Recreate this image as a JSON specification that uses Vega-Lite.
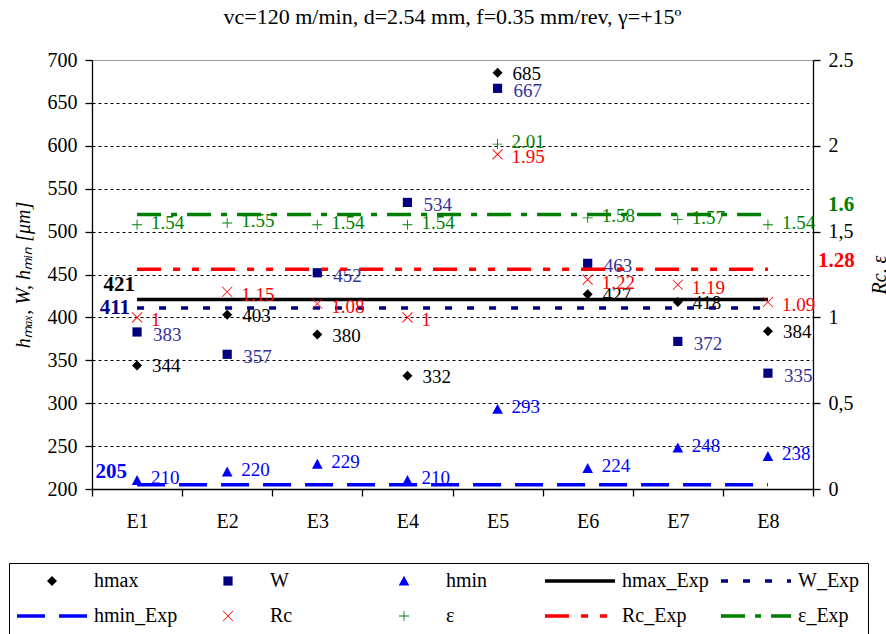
{
  "$schema": "https://vega.github.io/schema/vega-lite/v6.json",
  "width": 721,
  "height": 429,
  "autosize": {"type": "none"},
  "padding": {"left": 92, "top": 60, "right": 73, "bottom": 145},
  "background": "white",
  "title": {"text": "vc=120 m/min, d=2.54 mm, f=0.35 mm/rev, γ=+15º", "font": "Liberation Serif", "fontSize": 22, "fontWeight": "normal", "color": "black", "anchor": "middle", "offset": 21},
  "config": {
    "font": "Liberation Serif",
    "view": {"stroke": "#a0a0a0", "strokeWidth": 1},
    "axis": {"labelFont": "Liberation Serif", "labelFontSize": 20, "labelColor": "black", "titleFont": "Liberation Serif", "titleFontSize": 20, "titleFontWeight": "normal", "titleColor": "black", "domainColor": "black", "tickColor": "black", "domainWidth": 1.3, "tickWidth": 1.3}
  },
  "datasets": {
    "pts": [
      {"E": "E1", "series": "hmax", "v": 344}, {"E": "E2", "series": "hmax", "v": 403}, {"E": "E3", "series": "hmax", "v": 380}, {"E": "E4", "series": "hmax", "v": 332},
      {"E": "E5", "series": "hmax", "v": 685}, {"E": "E6", "series": "hmax", "v": 427}, {"E": "E7", "series": "hmax", "v": 418}, {"E": "E8", "series": "hmax", "v": 384},
      {"E": "E1", "series": "W", "v": 383}, {"E": "E2", "series": "W", "v": 357}, {"E": "E3", "series": "W", "v": 452}, {"E": "E4", "series": "W", "v": 534},
      {"E": "E5", "series": "W", "v": 667}, {"E": "E6", "series": "W", "v": 463}, {"E": "E7", "series": "W", "v": 372}, {"E": "E8", "series": "W", "v": 335},
      {"E": "E1", "series": "hmin", "v": 210}, {"E": "E2", "series": "hmin", "v": 220}, {"E": "E3", "series": "hmin", "v": 229}, {"E": "E4", "series": "hmin", "v": 210},
      {"E": "E5", "series": "hmin", "v": 293}, {"E": "E6", "series": "hmin", "v": 224}, {"E": "E7", "series": "hmin", "v": 248}, {"E": "E8", "series": "hmin", "v": 238},
      {"E": "E1", "series": "Rc", "v": 1}, {"E": "E2", "series": "Rc", "v": 1.15}, {"E": "E3", "series": "Rc", "v": 1.08}, {"E": "E4", "series": "Rc", "v": 1},
      {"E": "E5", "series": "Rc", "v": 1.95}, {"E": "E6", "series": "Rc", "v": 1.22}, {"E": "E7", "series": "Rc", "v": 1.19}, {"E": "E8", "series": "Rc", "v": 1.09},
      {"E": "E1", "series": "ε", "v": 1.54}, {"E": "E2", "series": "ε", "v": 1.55}, {"E": "E3", "series": "ε", "v": 1.54}, {"E": "E4", "series": "ε", "v": 1.54},
      {"E": "E5", "series": "ε", "v": 2.01}, {"E": "E6", "series": "ε", "v": 1.58}, {"E": "E7", "series": "ε", "v": 1.57}, {"E": "E8", "series": "ε", "v": 1.54}
    ],
    "exp": [
      {"E": "E1", "series": "hmax_Exp", "v": 421}, {"E": "E8", "series": "hmax_Exp", "v": 421},
      {"E": "E1", "series": "W_Exp", "v": 411}, {"E": "E8", "series": "W_Exp", "v": 411},
      {"E": "E1", "series": "hmin_Exp", "v": 205}, {"E": "E8", "series": "hmin_Exp", "v": 205},
      {"E": "E1", "series": "Rc_Exp", "v": 1.28}, {"E": "E8", "series": "Rc_Exp", "v": 1.28},
      {"E": "E1", "series": "ε_Exp", "v": 1.6}, {"E": "E8", "series": "ε_Exp", "v": 1.6}
    ]
  },
  "encoding": {
    "x": {"field": "E", "type": "nominal", "scale": {"type": "band", "paddingInner": 0, "paddingOuter": 0, "domain": ["E1", "E2", "E3", "E4", "E5", "E6", "E7", "E8"]}, "axis": {"title": null, "labelAngle": 0, "tickBand": "extent", "tickSize": 7, "labelPadding": 15, "grid": false}}
  },
  "layer": [
    {
      "encoding": {
        "y": {"field": "v", "type": "quantitative", "scale": {"domain": [200, 700], "zero": false, "nice": false}, "axis": {"orient": "left", "title": "hₘₐₓ, W, hₘᵢₙ [μm]", "titleFontStyle": "italic", "titlePadding": 14, "values": [200, 250, 300, 350, 400, 450, 500, 550, 600, 650, 700], "grid": true, "gridColor": "black", "gridDash": [3, 3], "gridWidth": 1, "gridOpacity": {"condition": {"test": "datum.value == 700 || datum.value == 200", "value": 0}, "value": 1}, "tickSize": 7, "labelPadding": 8}}
      },
      "layer": [
        {
          "data": {"name": "exp"},
          "transform": [{"filter": "indexof(['hmax_Exp','W_Exp','hmin_Exp'], datum.series) >= 0"}],
          "mark": {"type": "line", "strokeWidth": 3.5},
          "encoding": {
            "color": {"field": "series", "type": "nominal",
              "scale": {"domain": ["hmax", "W", "hmin", "hmax_Exp", "W_Exp", "hmin_Exp", "Rc", "ε", "Rc_Exp", "ε_Exp"], "range": ["#000000", "#000080", "#0000FF", "#000000", "#000080", "#0000FF", "#FF0000", "#008000", "#FF0000", "#008000"]},
              "legend": {"title": null, "orient": "none", "legendX": -83, "legendY": 503, "direction": "horizontal", "columns": 5, "gridAlign": "all", "columnPadding": 5, "rowPadding": 15, "padding": 8, "strokeColor": "black", "fillColor": "white", "labelFont": "Liberation Serif", "labelFontSize": 20, "labelColor": "black", "labelOffset": 32, "symbolOffset": 25, "symbolSize": 400, "symbolStrokeWidth": 3.5,
                "encode": {"symbols": {"update": {
                  "shape": {"signal": "scale('shape', datum.value)"},
                  "size": {"value": 400},
                  "strokeWidth": {"signal": "indexof(['hmax_Exp','W_Exp','hmin_Exp','Rc_Exp','ε_Exp'], datum.value) >= 0 ? 3.5 : 0"},
                  "fill": {"signal": "indexof(['hmax_Exp','W_Exp','hmin_Exp','Rc_Exp','ε_Exp'], datum.value) >= 0 ? 'transparent' : scale('color', datum.value)"},
                  "stroke": {"signal": "indexof(['hmax_Exp','W_Exp','hmin_Exp','Rc_Exp','ε_Exp'], datum.value) >= 0 ? scale('color', datum.value) : 'transparent'"},
                  "strokeDash": {"signal": "scale('strokeDash', datum.value)"},
                  "opacity": {"value": 1},
                  "fillOpacity": {"value": 1},
                  "strokeOpacity": {"value": 1}
                }}}
              }
            },
            "strokeDash": {"field": "series", "type": "nominal", "legend": null,
              "scale": {"domain": ["hmax", "W", "hmin", "hmax_Exp", "W_Exp", "hmin_Exp", "Rc", "ε", "Rc_Exp", "ε_Exp"], "range": [[1, 0], [1, 0], [1, 0], [1, 0], [7, 15], [28, 14], [1, 0], [1, 0], [24, 12, 7, 12, 7, 12], [24, 10, 6, 10]]}}
          }
        },
        {
          "data": {"name": "pts"},
          "transform": [{"filter": "indexof(['hmax','W','hmin'], datum.series) >= 0"}],
          "mark": {"type": "point", "filled": true, "size": 400, "opacity": 1},
          "encoding": {
            "color": {"field": "series", "type": "nominal", "scale": {"domain": ["hmax", "W", "hmin", "hmax_Exp", "W_Exp", "hmin_Exp", "Rc", "ε", "Rc_Exp", "ε_Exp"], "range": ["#000000", "#000080", "#0000FF", "#000000", "#000080", "#0000FF", "#FF0000", "#008000", "#FF0000", "#008000"]}},
            "shape": {"field": "series", "type": "nominal", "legend": null,
              "scale": {"domain": ["hmax", "W", "hmin", "hmax_Exp", "W_Exp", "hmin_Exp", "Rc", "ε", "Rc_Exp", "ε_Exp"], "range": ["M0,-0.5L0.5,0L0,0.5L-0.5,0Z", "M-0.46,-0.46H0.46V0.46H-0.46Z", "M0,-0.53L0.53,0.46H-0.53Z", "M-3.5,0H3.5", "M-3.5,0H3.5", "M-3.5,0H3.5", "M-0.4717,-0.5283L0.5283,0.4717L0.4717,0.5283L-0.5283,-0.4717ZM-0.5283,0.4717L0.4717,-0.5283L0.5283,-0.4717L-0.4717,0.5283Z", "M-0.5,-0.045H-0.045V-0.5H0.045V-0.045H0.5V0.045H0.045V0.5H-0.045V0.045H-0.5Z", "M-3.5,0H3.5", "M-3.5,0H3.5"]}}
          }
        },
        {
          "data": {"name": "pts"},
          "transform": [{"filter": "datum.series == 'hmax'"}],
          "mark": {"type": "text", "font": "Liberation Serif", "fontSize": 19, "align": "left", "baseline": "middle", "dx": 15, "dy": 1, "color": "#000000"},
          "encoding": {"text": {"field": "v", "type": "quantitative"}}
        },
        {
          "data": {"name": "pts"},
          "transform": [{"filter": "datum.series == 'W'"}],
          "mark": {"type": "text", "font": "Liberation Serif", "fontSize": 19, "align": "left", "baseline": "middle", "dx": 16, "dy": 3, "color": "#333399"},
          "encoding": {"text": {"field": "v", "type": "quantitative"}}
        },
        {
          "data": {"name": "pts"},
          "transform": [{"filter": "datum.series == 'hmin'"}],
          "mark": {"type": "text", "font": "Liberation Serif", "fontSize": 19, "align": "left", "baseline": "middle", "dx": 14, "dy": -2, "color": "#0000FF"},
          "encoding": {"text": {"field": "v", "type": "quantitative"}}
        },
        {
          "data": {"name": "exp"},
          "transform": [{"filter": "datum.series == 'hmax_Exp' && datum.E == 'E1'"}],
          "mark": {"type": "text", "font": "Liberation Serif", "align": "right", "baseline": "middle", "dx": -2, "dy": -14, "color": "#000000", "fontWeight": "bold", "fontSize": 21},
          "encoding": {"text": {"field": "v", "type": "quantitative"}}
        },
        {
          "data": {"name": "exp"},
          "transform": [{"filter": "datum.series == 'W_Exp' && datum.E == 'E1'"}],
          "mark": {"type": "text", "font": "Liberation Serif", "align": "right", "baseline": "middle", "dx": -7, "dy": 0, "color": "#000080", "fontWeight": "bold", "fontSize": 21},
          "encoding": {"text": {"field": "v", "type": "quantitative"}}
        },
        {
          "data": {"name": "exp"},
          "transform": [{"filter": "datum.series == 'hmin_Exp' && datum.E == 'E1'"}],
          "mark": {"type": "text", "font": "Liberation Serif", "align": "right", "baseline": "middle", "dx": -10, "dy": -13, "color": "#0000FF", "fontWeight": "bold", "fontSize": 21},
          "encoding": {"text": {"field": "v", "type": "quantitative"}}
        }
      ]
    },
    {
      "encoding": {
        "y": {"field": "v", "type": "quantitative", "scale": {"domain": [0, 2.5], "nice": false}, "axis": {"orient": "right", "title": "Rc, ε", "titleFontStyle": "italic", "titleAngle": 270, "titlePadding": 36, "values": [0, 0.5, 1, 1.5, 2, 2.5], "grid": false, "tickSize": 7, "labelPadding": 8, "labelExpr": "datum.value == 2.5 ? '2.5' : replace(format(datum.value, ''), '.', ',')"}}
      },
      "layer": [
        {
          "data": {"name": "exp"},
          "transform": [{"filter": "indexof(['Rc_Exp','ε_Exp'], datum.series) >= 0"}],
          "mark": {"type": "line", "strokeWidth": 3.5},
          "encoding": {
            "color": {"field": "series", "type": "nominal", "scale": {"domain": ["hmax", "W", "hmin", "hmax_Exp", "W_Exp", "hmin_Exp", "Rc", "ε", "Rc_Exp", "ε_Exp"], "range": ["#000000", "#000080", "#0000FF", "#000000", "#000080", "#0000FF", "#FF0000", "#008000", "#FF0000", "#008000"]}},
            "strokeDash": {"field": "series", "type": "nominal", "legend": null,
              "scale": {"domain": ["hmax", "W", "hmin", "hmax_Exp", "W_Exp", "hmin_Exp", "Rc", "ε", "Rc_Exp", "ε_Exp"], "range": [[1, 0], [1, 0], [1, 0], [1, 0], [7, 15], [28, 14], [1, 0], [1, 0], [24, 12, 7, 12, 7, 12], [24, 10, 6, 10]]}}
          }
        },
        {
          "data": {"name": "pts"},
          "transform": [{"filter": "indexof(['Rc','ε'], datum.series) >= 0"}],
          "mark": {"type": "point", "filled": true, "size": 400, "opacity": 1},
          "encoding": {
            "color": {"field": "series", "type": "nominal", "scale": {"domain": ["hmax", "W", "hmin", "hmax_Exp", "W_Exp", "hmin_Exp", "Rc", "ε", "Rc_Exp", "ε_Exp"], "range": ["#000000", "#000080", "#0000FF", "#000000", "#000080", "#0000FF", "#FF0000", "#008000", "#FF0000", "#008000"]}},
            "shape": {"field": "series", "type": "nominal", "legend": null,
              "scale": {"domain": ["hmax", "W", "hmin", "hmax_Exp", "W_Exp", "hmin_Exp", "Rc", "ε", "Rc_Exp", "ε_Exp"], "range": ["M0,-0.5L0.5,0L0,0.5L-0.5,0Z", "M-0.46,-0.46H0.46V0.46H-0.46Z", "M0,-0.53L0.53,0.46H-0.53Z", "M-3.5,0H3.5", "M-3.5,0H3.5", "M-3.5,0H3.5", "M-0.4717,-0.5283L0.5283,0.4717L0.4717,0.5283L-0.5283,-0.4717ZM-0.5283,0.4717L0.4717,-0.5283L0.5283,-0.4717L-0.4717,0.5283Z", "M-0.5,-0.045H-0.045V-0.5H0.045V-0.045H0.5V0.045H0.045V0.5H-0.045V0.045H-0.5Z", "M-3.5,0H3.5", "M-3.5,0H3.5"]}}
          }
        },
        {
          "data": {"name": "pts"},
          "transform": [{"filter": "datum.series == 'Rc'"}],
          "mark": {"type": "text", "font": "Liberation Serif", "fontSize": 19, "align": "left", "baseline": "middle", "dx": 14, "dy": 3, "color": "#FF0000"},
          "encoding": {"text": {"field": "v", "type": "quantitative"}}
        },
        {
          "data": {"name": "pts"},
          "transform": [{"filter": "datum.series == 'ε'"}],
          "mark": {"type": "text", "font": "Liberation Serif", "fontSize": 19, "align": "left", "baseline": "middle", "dx": 14, "dy": -2, "color": "#008000"},
          "encoding": {"text": {"field": "v", "type": "quantitative"}}
        },
        {
          "data": {"name": "exp"},
          "transform": [{"filter": "datum.series == 'ε_Exp' && datum.E == 'E8'"}],
          "mark": {"type": "text", "font": "Liberation Serif", "align": "left", "baseline": "middle", "dx": 60, "dy": -9, "color": "#008000", "fontWeight": "bold", "fontSize": 21},
          "encoding": {"text": {"field": "v", "type": "quantitative"}}
        },
        {
          "data": {"name": "exp"},
          "transform": [{"filter": "datum.series == 'Rc_Exp' && datum.E == 'E8'"}],
          "mark": {"type": "text", "font": "Liberation Serif", "align": "left", "baseline": "middle", "dx": 50, "dy": -8, "color": "#FF0000", "fontWeight": "bold", "fontSize": 21},
          "encoding": {"text": {"field": "v", "type": "quantitative"}}
        }
      ]
    }
  ],
  "resolve": {"scale": {"y": "independent"}}
}
